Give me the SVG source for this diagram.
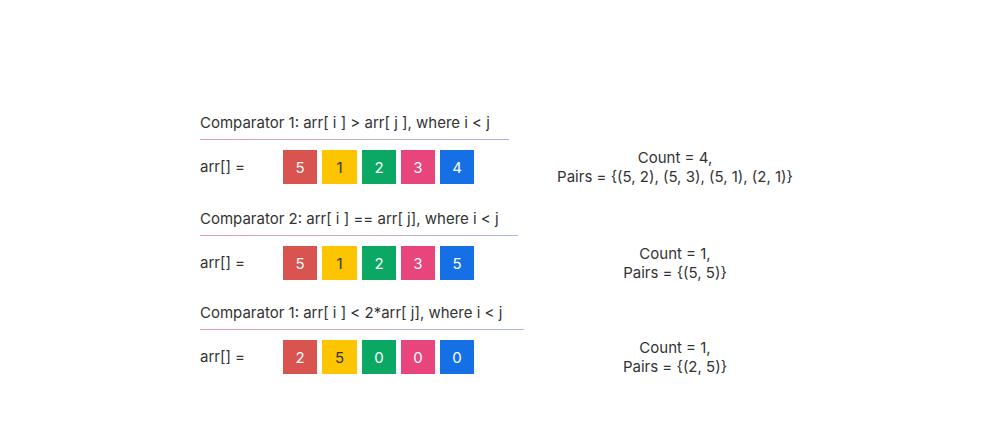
<svg xmlns="http://www.w3.org/2000/svg" width="1000" height="425" viewBox="0 0 1000 425">
<style>
text{font-family:Inter,"Liberation Sans",sans-serif;font-size:15px;fill:#333}
.c{text-anchor:middle}
.v{fill:#fff;text-anchor:middle;font-size:15px}
.vy{fill:#333;text-anchor:middle;font-size:15px}
.r{fill:#d9534f}.y{fill:#fdc500}.g{fill:#0ba864}.p{fill:#e8457c}.b{fill:#1570e6}
</style>
<defs><linearGradient id="lg"><stop offset="0" stop-color="#e8a0a8"/><stop offset="1" stop-color="#a8b8e0"/></linearGradient></defs>
<rect width="1000" height="425" fill="#fff"/>
<g id="row1">
<text x="200" y="128">Comparator 1: arr[ i ] &gt; arr[ j ], where i &lt; j</text>
<rect x="200" y="139" width="309" height="1" fill="url(#lg)"/>
<text x="200" y="172">arr[] =</text>
<rect class="r" x="283" y="150" width="34" height="34"/><text class="v" x="300" y="173">5</text>
<rect class="y" x="322" y="150" width="35" height="34"/><text class="vy" x="339.5" y="173">1</text>
<rect class="g" x="362" y="150" width="34" height="34"/><text class="v" x="379" y="173">2</text>
<rect class="p" x="401" y="150" width="34" height="34"/><text class="v" x="418" y="173">3</text>
<rect class="b" x="440" y="150" width="34" height="34"/><text class="v" x="457" y="173">4</text>
<text class="c" x="675" y="163">Count = 4,</text>
<text class="c" x="675" y="182">Pairs = {(5, 2), (5, 3), (5, 1), (2, 1)}</text>
</g>
<g id="row2">
<text x="200" y="224">Comparator 2: arr[ i ] == arr[ j], where i &lt; j</text>
<rect x="200" y="235" width="318" height="1" fill="url(#lg)"/>
<text x="200" y="268">arr[] =</text>
<rect class="r" x="283" y="246" width="34" height="34"/><text class="v" x="300" y="269">5</text>
<rect class="y" x="322" y="246" width="35" height="34"/><text class="vy" x="339.5" y="269">1</text>
<rect class="g" x="362" y="246" width="34" height="34"/><text class="v" x="379" y="269">2</text>
<rect class="p" x="401" y="246" width="34" height="34"/><text class="v" x="418" y="269">3</text>
<rect class="b" x="440" y="246" width="34" height="34"/><text class="v" x="457" y="269">5</text>
<text class="c" x="675" y="259">Count = 1,</text>
<text class="c" x="675" y="278">Pairs = {(5, 5)}</text>
</g>
<g id="row3">
<text x="200" y="318">Comparator 1: arr[ i ] &lt; 2*arr[ j], where i &lt; j</text>
<rect x="200" y="329" width="324" height="1" fill="url(#lg)"/>
<text x="200" y="362">arr[] =</text>
<rect class="r" x="283" y="340" width="34" height="34"/><text class="v" x="300" y="363">2</text>
<rect class="y" x="322" y="340" width="35" height="34"/><text class="vy" x="339.5" y="363">5</text>
<rect class="g" x="362" y="340" width="34" height="34"/><text class="v" x="379" y="363">0</text>
<rect class="p" x="401" y="340" width="34" height="34"/><text class="v" x="418" y="363">0</text>
<rect class="b" x="440" y="340" width="34" height="34"/><text class="v" x="457" y="363">0</text>
<text class="c" x="675" y="353">Count = 1,</text>
<text class="c" x="675" y="372">Pairs = {(2, 5)}</text>
</g>
<g id="connectors"/>
</svg>
